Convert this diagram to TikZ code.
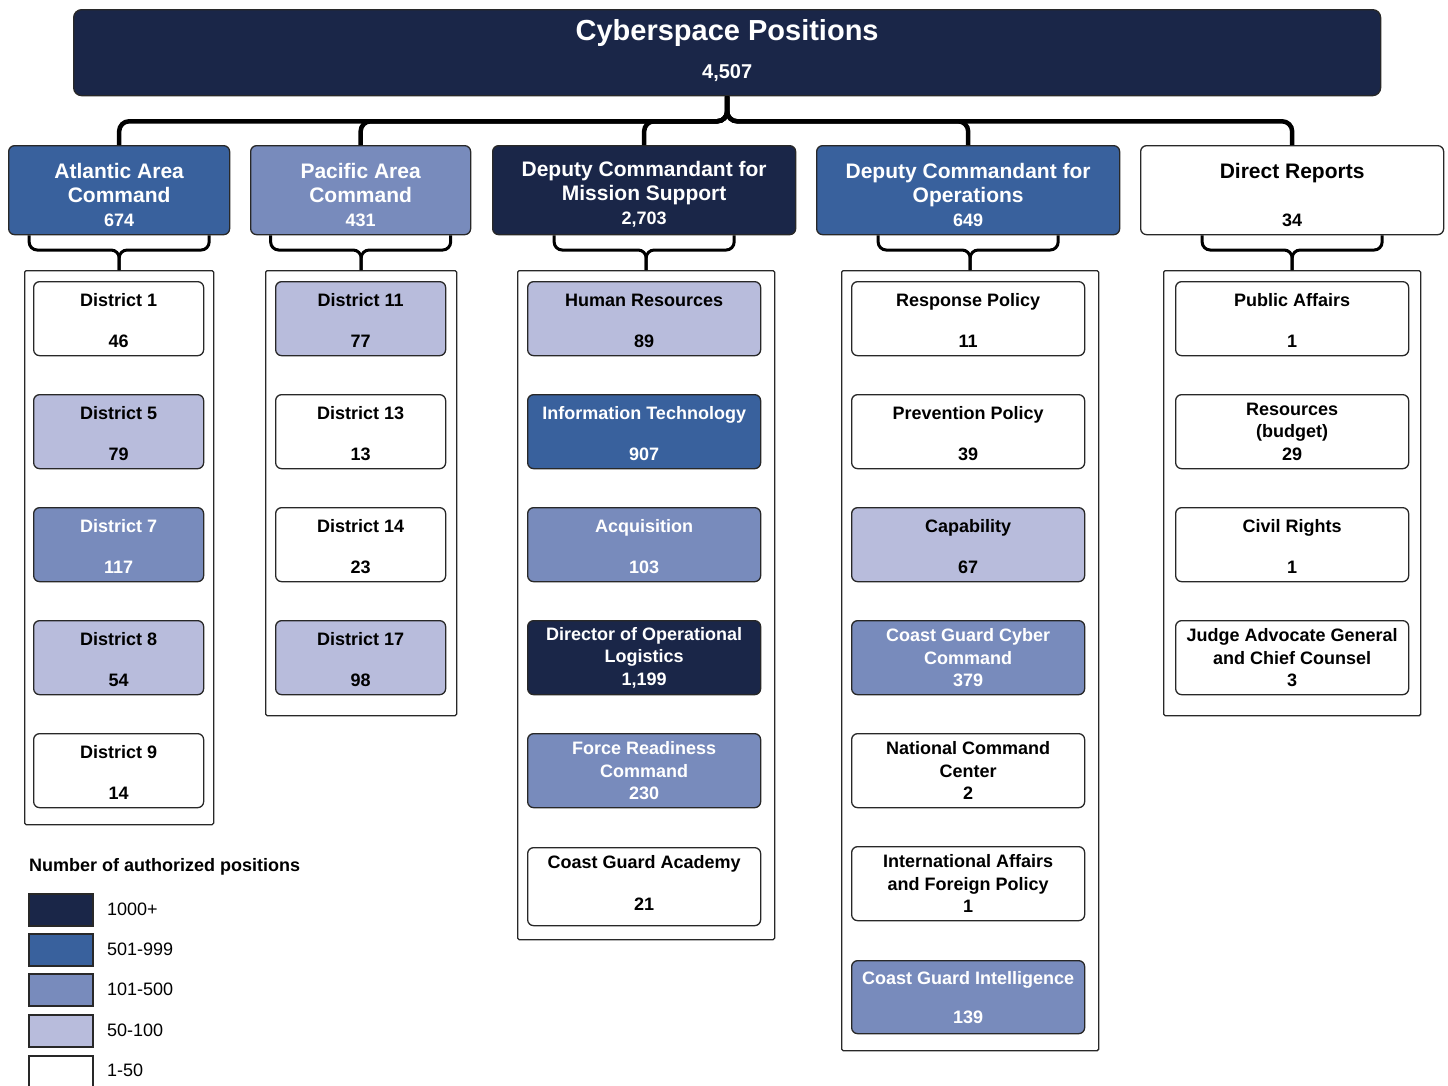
\documentclass[tikz,border=0pt]{standalone}
\usepackage{fontspec}
\setmainfont{Liberation Sans}
\usetikzlibrary{calc}
\definecolor{cnavy}{RGB}{26,38,72}
\definecolor{cblue}{RGB}{57,97,157}
\definecolor{cmed}{RGB}{120,139,188}
\definecolor{clight}{RGB}{184,188,220}
\definecolor{cline}{RGB}{40,40,40}
\newcommand\lstrut{\rule{0pt}{24pt}}
\newcommand\cstrut{\rule{0pt}{17pt}}
\newcommand\numtxt[1]{{\fontsize{18}{24}\selectfont #1}}
\begin{document}
\begin{tikzpicture}[x=1pt,y=-1pt,
 base/.style={draw=cline,line width=1.3pt,rounded corners=6pt,anchor=north west,align=center,inner sep=0pt},
 child/.style={base,minimum height=74pt,font=\fontsize{18}{22.5}\selectfont\bfseries},
 cwA/.style={minimum width=170pt},
 cwB/.style={minimum width=233pt},
 head/.style={base,minimum height=89pt,font=\fontsize{21}{24}\selectfont\bfseries},
 group/.style={draw=cline,line width=1.3pt,rounded corners=1.5pt,anchor=north west,inner sep=0pt},
 fnavy/.style={fill=cnavy,text=white},
 fblue/.style={fill=cblue,text=white},
 fmed/.style={fill=cmed,text=white},
 flight/.style={fill=clight,text=black},
 fwhite/.style={fill=white,text=black},
 bigbrace/.style={draw=black,line width=4.5pt,rounded corners=10pt},
 smallbrace/.style={draw=black,line width=3pt,rounded corners=8pt},
 swatch/.style={draw=cline,line width=1.5pt,anchor=north west,minimum width=64pt,minimum height=32pt,inner sep=0pt},
 legtext/.style={anchor=west,inner sep=0pt,font=\fontsize{18}{22}\selectfont},
]
\fill[white] (0,0) rectangle (1448,1085);
\useasboundingbox (0,0) rectangle (1448,1085);

% top
\node[base,fnavy,minimum width=1307pt,minimum height=86pt,rounded corners=8pt,font=\fontsize{20}{24}\selectfont\bfseries] (top) at (73,9)
  {{\fontsize{29}{29}\selectfont Cyberspace Positions}\\[13.8pt]4,507\rule[-8pt]{0pt}{8pt}};

% second level
\node[head,fblue,minimum width=221pt] (atl) at (8,145) {\lstrut Atlantic Area\\Command\\\numtxt{674}};
\node[head,fmed,minimum width=220pt] (pac) at (250,145) {\lstrut Pacific Area\\Command\\\numtxt{431}};
\node[head,fnavy,minimum width=303pt] (dcms) at (492,145) {\lstrut Deputy Commandant for\\Mission Support\\\numtxt{2,703}};
\node[head,fblue,minimum width=303pt] (dco) at (816,145) {\lstrut Deputy Commandant for\\Operations\\\numtxt{649}};
\node[head,fwhite,minimum width=303pt] (dr) at (1140,145) {\lstrut Direct Reports\\[24pt]\numtxt{34}};

% groups
\node[group,minimum width=189pt,minimum height=554pt] (gatl) at (24,270) {};
\node[group,minimum width=191pt,minimum height=445pt] (gpac) at (265,270) {};
\node[group,minimum width=257pt,minimum height=669pt] (gdcms) at (517,270) {};
\node[group,minimum width=257pt,minimum height=780pt] (gdco) at (841,270) {};
\node[group,minimum width=257pt,minimum height=445pt] (gdr) at (1163,270) {};

% Atlantic children
\node[child,cwA,fwhite] (a1) at (33,281) {\cstrut District 1\\[18.5pt]46};
\node[child,cwA,flight] (a2) at (33,394) {\cstrut District 5\\[18.5pt]79};
\node[child,cwA,fmed] (a3) at (33,507) {\cstrut District 7\\[18.5pt]117};
\node[child,cwA,flight] (a4) at (33,620) {\cstrut District 8\\[18.5pt]54};
\node[child,cwA,fwhite] (a5) at (33,733) {\cstrut District 9\\[18.5pt]14};

% Pacific children
\node[child,cwA,flight] (p1) at (275,281) {\cstrut District 11\\[18.5pt]77};
\node[child,cwA,fwhite] (p2) at (275,394) {\cstrut District 13\\[18.5pt]13};
\node[child,cwA,fwhite] (p3) at (275,507) {\cstrut District 14\\[18.5pt]23};
\node[child,cwA,flight] (p4) at (275,620) {\cstrut District 17\\[18.5pt]98};

% Mission Support children
\node[child,cwB,flight] (m1) at (527,281) {\cstrut Human Resources\\[18.5pt]89};
\node[child,cwB,fblue] (m2) at (527,394) {\cstrut Information Technology\\[18.5pt]907};
\node[child,cwB,fmed] (m3) at (527,507) {\cstrut Acquisition\\[18.5pt]103};
\node[child,cwB,fnavy] (m4) at (527,620) {Director of Operational\\Logistics\\1,199};
\node[child,cwB,fmed] (m5) at (527,733) {Force Readiness\\Command\\230};
\node[child,cwB,fwhite,minimum height=78pt] (m6) at (527,847) {Coast Guard Academy\\[19.5pt]21\rule[-7pt]{0pt}{7pt}};

% Operations children
\node[child,cwB,fwhite] (o1) at (851,281) {\cstrut Response Policy\\[18.5pt]11};
\node[child,cwB,fwhite] (o2) at (851,394) {\cstrut Prevention Policy\\[18.5pt]39};
\node[child,cwB,flight] (o3) at (851,507) {\cstrut Capability\\[18.5pt]67};
\node[child,cwB,fmed] (o4) at (851,620) {Coast Guard Cyber\\Command\\379};
\node[child,cwB,fwhite] (o5) at (851,733) {National Command\\Center\\2};
\node[child,cwB,fwhite] (o6) at (851,846) {International Affairs\\and Foreign Policy\\1};
\node[child,cwB,fmed,minimum height=73pt] (o7) at (851,960) {Coast Guard Intelligence\\[16.5pt]139};

% Direct reports children
\node[child,cwB,fwhite] (r1) at (1175,281) {\cstrut Public Affairs\\[18.5pt]1};
\node[child,cwB,fwhite] (r2) at (1175,394) {Resources\\(budget)\\29};
\node[child,cwB,fwhite] (r3) at (1175,507) {\cstrut Civil Rights\\[18.5pt]1};
\node[child,cwB,fwhite] (r4) at (1175,620) {Judge Advocate General\\and Chief Counsel\\3};

% top brace
\draw[bigbrace] (top.south) -- ++(0,25) -| (atl.north);
\draw[bigbrace] (top.south) -- ++(0,25) -| (pac.north);
\draw[bigbrace] (top.south) -- ++(0,25) -| (dcms.north);
\draw[bigbrace] (top.south) -- ++(0,25) -| (dco.north);
\draw[bigbrace] (top.south) -- ++(0,25) -| (dr.north);

% lower braces
\foreach \g/\h in {gatl/atl,gpac/pac,gdcms/dcms,gdco/dco,gdr/dr}{
  \draw[smallbrace] (\g.north) -- ++(0,-20) -| ($(\h.south)+(-90,0)$);
  \draw[smallbrace] (\g.north) -- ++(0,-20) -| ($(\h.south)+(90,0)$);
}

% legend
\node[legtext,font=\fontsize{18}{22}\selectfont\bfseries] (legt) at (29,867) {Number of authorized positions};
\node[swatch,fill=cnavy] (s1) at (28,893) {};
\node[swatch,fill=cblue] (s2) at (28,933) {};
\node[swatch,fill=cmed] (s3) at (28,973) {};
\node[swatch,fill=clight] (s4) at (28,1014) {};
\node[swatch,fill=white] (s5) at (28,1055) {};
\node[legtext] (l1) at (107,909) {1000+};
\node[legtext] (l2) at (107,949) {501-999};
\node[legtext] (l3) at (107,989) {101-500};
\node[legtext] (l4) at (107,1030) {50-100};
\node[legtext] (l5) at (107,1070) {1-50};
\end{tikzpicture}
\end{document}
